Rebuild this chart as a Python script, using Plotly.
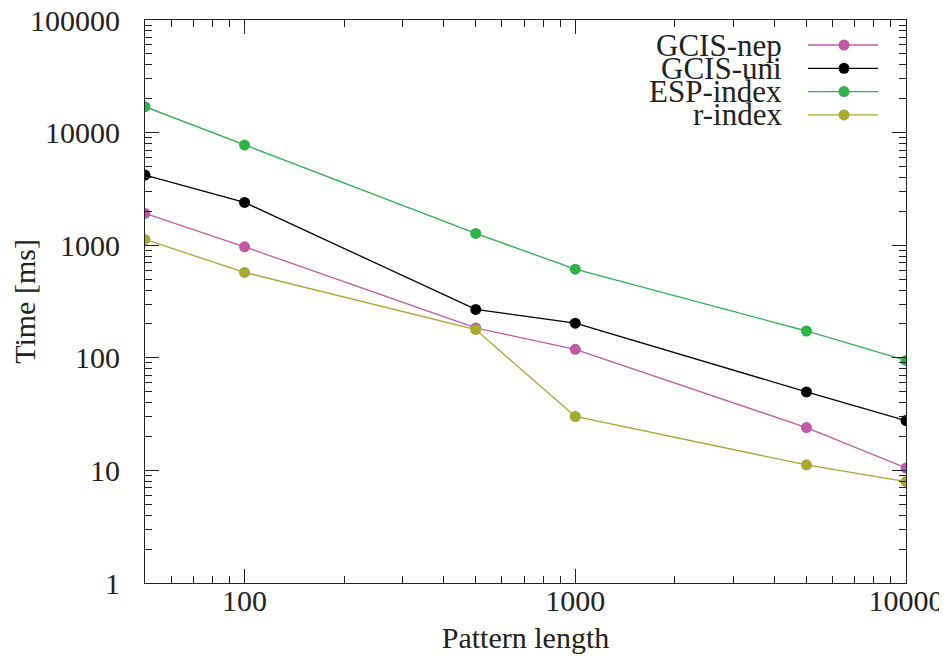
import numpy as np
import plotly.graph_objects as go

pattern_length = [50, 100, 500, 1000, 5000, 10000]
series_names = ["GCIS-nep", "GCIS-uni", "ESP-index", "r-index"]
gcis_nep = [1916, 968, 184, 119, 24.0, 10.5]
gcis_uni = [4195, 2400, 269, 203, 49.8, 27.7]
esp_index = [16980, 7750, 1273, 612, 173, 94.7]
r_index = [1125, 573, 178, 30.1, 11.2, 7.96]
series_values = [gcis_nep, gcis_uni, esp_index, r_index]
series_colors = ["#c05aa8", "#000000", "#2fb24a", "#a8a832"]

x_ticks = [100, 1000, 10000]
y_ticks = [1, 10, 100, 1000, 10000, 100000]

FONT = "Liberation Serif"
FS = 30

fig = go.Figure()
for name, vals, col in zip(series_names, series_values, series_colors):
    fig.add_trace(go.Scatter(
        x=pattern_length, y=vals, name=name, mode="lines+markers",
        line=dict(color=col, width=1.3),
        marker=dict(color=col, size=11),
        showlegend=False,
    ))

x_minor = [k * 10 ** e for e in range(1, 4) for k in range(2, 10) if 50 <= k * 10 ** e <= 10000]
y_minor = [k * 10 ** e for e in range(0, 5) for k in range(2, 10)]

axis_common = dict(
    type="log", showline=True, linecolor="#222", linewidth=1.2, mirror="allticks",
    ticks="inside", tickcolor="#222", tickwidth=1, ticklen=14,
    showgrid=False, zeroline=False, automargin=False, ticklabeloverflow="allow",
    tickfont=dict(family=FONT, size=FS, color="#222"),
)

fig.update_xaxes(
    **axis_common,
    range=[np.log10(50), 4],
    tickmode="array", tickvals=x_ticks, ticktext=[str(v) for v in x_ticks],
    minor=dict(tickmode="array", tickvals=x_minor, ticks="inside", ticklen=7,
               tickcolor="#222", tickwidth=1, showgrid=False),
    ticklabelstandoff=-9,
    title=dict(text="Pattern length", font=dict(family=FONT, size=FS, color="#222"), standoff=12),
)
fig.update_yaxes(
    **axis_common,
    range=[0, 5],
    tickmode="array", tickvals=y_ticks, ticktext=[str(v) for v in y_ticks],
    minor=dict(tickmode="array", tickvals=y_minor, ticks="inside", ticklen=7,
               tickcolor="#222", tickwidth=1, showgrid=False),
    ticklabelstandoff=18,
    title=dict(text="Time [ms]", font=dict(family=FONT, size=FS, color="#222"), standoff=20),
)

# the page puts the figure 8px in from the top-left corner, so size it to fit
L, R, T, B = 137, 41, 12, 71
W, H = 939, 646
pw, ph = W - L - R, H - T - B
OFF = 8
def px(xp):
    return (xp - OFF - L) / pw
def py(yp):
    return (H - B - (yp - OFF)) / ph

# manual legend (text right-aligned, sample on the right, like gnuplot)
shapes = []
annotations = []
for i, (name, col) in enumerate(zip(series_names, series_colors)):
    yc = 45 + i * 23.3
    annotations.append(dict(
        x=px(784), y=py(yc), xref="paper", yref="paper", xanchor="right", yanchor="middle",
        text=name, showarrow=False, font=dict(family=FONT, size=31, color="#222"),
    ))
    shapes.append(dict(type="line", xref="paper", yref="paper",
                       x0=px(808), x1=px(878), y0=py(yc), y1=py(yc),
                       line=dict(color=col, width=1.3)))
    shapes.append(dict(type="circle", xref="paper", yref="paper",
                       xsizemode="pixel", ysizemode="pixel",
                       xanchor=px(844), yanchor=py(yc),
                       x0=-5.5, x1=5.5, y0=-5.5, y1=5.5,
                       fillcolor=col, line=dict(color=col, width=0)))

fig.update_layout(
    width=W, height=H,
    margin=dict(l=L, r=R, t=T, b=B),
    paper_bgcolor="white", plot_bgcolor="white",
    shapes=shapes, annotations=annotations,
    showlegend=False,
)

fig.write_html("out.html")
